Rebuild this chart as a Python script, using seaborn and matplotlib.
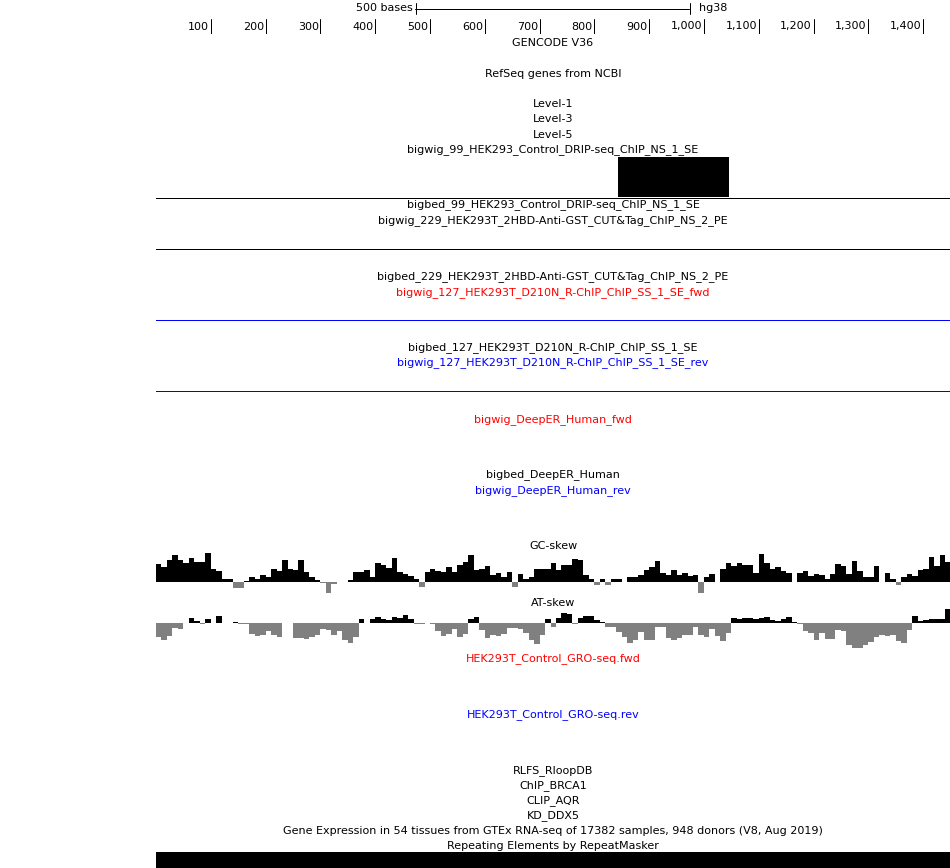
import numpy as np
import matplotlib
matplotlib.use("Agg")
import matplotlib.pyplot as plt
import seaborn as sns

# ── DATA ────────────────────────────────────────────────────────────
view_start, view_end = 0, 1449          # bases shown in the window
ruler_ticks = [100, 200, 300, 400, 500, 600, 700, 800, 900,
               1000, 1100, 1200, 1300, 1400]
ruler_labels = ["100", "200", "300", "400", "500", "600", "700", "800", "900",
                "1,000", "1,100", "1,200", "1,300", "1,400"]

bin_size = 10
# GC / AT skew per 10-base bin (arbitrary units)
gc_skew = [53, 44, 65, 81, 65, 57, 71, 59, 59, 86, 39, 32, 8, 8, -18, -18, 2, 14,
           8, 21, 15, 39, 31, 65, 38, 36, 65, 29, 14, 5, -3, -34, -7, -2, 0, 5,
           28, 28, 35, 14, 56, 51, 41, 71, 28, 23, 16, 8, -17, 28, 38, 31, 29, 45,
           29, 51, 59, 81, 36, 38, 46, 21, 26, 14, 28, -17, 23, 9, 14, 37, 37, 37,
           57, 36, 51, 51, 69, 65, 21, 8, -9, 8, -9, 8, 8, 0, 14, 14, 21, 35,
           43, 63, 26, 21, 35, 21, 27, 18, 21, -33, 13, 24, 0, 39, 56, 46, 56, 51,
           51, 26, 83, 56, 39, 44, 31, 27, 0, 26, 33, 16, 23, 21, 8, 23, 53, 48,
           23, 63, 31, 14, 14, 48, 0, 26, 9, -9, 13, 23, 18, 36, 39, 74, 46, 81, 58]
at_skew = [-41, -50, -38, -13, -18, 0, 17, 8, -3, 12, 2, 21, 2, 2, 3, -3, -3, -31,
           -38, -35, -23, -35, -41, 2, 0, -43, -43, -48, -41, -35, -16, -21, -35, -23, -51, -58,
           -40, 14, 2, 12, 20, 12, 10, 20, 16, 25, 12, -3, -3, 1, -3, -23, -38, -31,
           -18, -41, -33, 14, 20, -21, -43, -35, -38, -31, -15, -15, -18, -28, -51, -63, -35, 12,
           -10, 16, 31, 28, -2, 16, 23, 23, 10, 3, -12, -12, -27, -42, -60, -50, -27, -50,
           -50, -12, -10, -44, -50, -44, -34, -34, -12, -34, -42, -17, -37, -52, -30, 16, 13, 16,
           16, 14, 16, 18, 10, 8, 14, 18, 4, -2, -24, -29, -49, -29, -46, -46, -19, -24,
           -64, -74, -74, -64, -56, -42, -36, -39, -36, -54, -59, -19, 21, 6, 11, 14, 14, 14, 43]

drip_start, drip_end, drip_value = [843], [1045], [1.0]
repeat_start, repeat_end = [0], [1449]

track_labels = [
    "GENCODE V36", "RefSeq genes from NCBI", "Level-1", "Level-3", "Level-5",
    "bigwig_99_HEK293_Control_DRIP-seq_ChIP_NS_1_SE",
    "bigbed_99_HEK293_Control_DRIP-seq_ChIP_NS_1_SE",
    "bigwig_229_HEK293T_2HBD-Anti-GST_CUT&Tag_ChIP_NS_2_PE",
    "bigbed_229_HEK293T_2HBD-Anti-GST_CUT&Tag_ChIP_NS_2_PE",
    "bigwig_127_HEK293T_D210N_R-ChIP_ChIP_SS_1_SE_fwd",
    "bigbed_127_HEK293T_D210N_R-ChIP_ChIP_SS_1_SE",
    "bigwig_127_HEK293T_D210N_R-ChIP_ChIP_SS_1_SE_rev",
    "bigwig_DeepER_Human_fwd", "bigbed_DeepER_Human", "bigwig_DeepER_Human_rev",
    "GC-skew", "AT-skew",
    "HEK293T_Control_GRO-seq.fwd", "HEK293T_Control_GRO-seq.rev",
    "RLFS_RloopDB", "ChIP_BRCA1", "CLIP_AQR", "KD_DDX5",
    "Gene Expression in 54 tissues from GTEx RNA-seq of 17382 samples, 948 donors (V8, Aug 2019)",
    "Repeating Elements by RepeatMasker",
]

# ── LAYOUT (pixel rows of the browser image) ────────────────────────
W, H = 950, 868
label_y = [43, 74, 104, 119, 135, 150, 205, 221, 277, 293, 348, 363,
           420, 475, 491, 546, 603, 659, 715, 771, 786, 801, 816, 831, 846]
label_col = ["black"] * 9 + ["red", "black", "blue", "red", "black", "blue",
                             "black", "black", "red", "blue"] + ["black"] * 6
X0, X1 = 156, 950
FS = 8
LW = 0.72   # one pixel at 100 dpi

sns.set_theme(style="white")
plt.rcParams["font.family"] = ["DejaVu Sans"]
plt.rcParams["text.color"] = "black"

fig = plt.figure(figsize=(W / 100, H / 100), dpi=100)
fig.patch.set_facecolor("white")


def track_ax(top, bottom):
    a = fig.add_axes([X0 / W, 1 - bottom / H, (X1 - X0) / W, (bottom - top) / H])
    a.set_xlim(view_start, view_end)
    a.set_axis_off()
    a.patch.set_alpha(0)
    return a


# overlay axes in pixel coordinates for labels, ruler and separators
ax = fig.add_axes([0, 0, 1, 1])
ax.set_xlim(0, W)
ax.set_ylim(H, 0)
ax.set_axis_off()
ax.patch.set_alpha(0)

cx = (X0 + X1) / 2
for txt, y, c in zip(track_labels, label_y, label_col):
    ax.text(cx, y, txt, ha="center", va="center", fontsize=FS, color=c)

# scale bar
ax.text(413, 8, "500 bases", ha="right", va="center", fontsize=FS, color="black")
ax.plot([415, 689], [8.5, 8.5], color="black", lw=LW)
ax.plot([415.5, 415.5], [3, 14], color="black", lw=LW)
ax.plot([689.5, 689.5], [3, 14], color="black", lw=LW)
ax.text(699, 8, "hg38", ha="left", va="center", fontsize=FS, color="black")

# base ruler
rax = track_ax(19, 34)
rax.set_ylim(0, 1)
for pos, lab in zip(ruler_ticks, ruler_labels):
    rax.plot([pos, pos], [0, 1], color="black", lw=LW)
    rax.text(pos - 3, 0.5, lab, ha="right", va="center", fontsize=FS, color="black")

# separators (track baselines), crisp one-pixel rows
for y, c in [(197, "black"), (248, "black"), (319, "blue"), (390, "blue")]:
    ax.plot([X0, X1], [y + 0.5, y + 0.5], color=c, lw=LW, antialiased=False)

# DRIP-seq signal
dax = track_ax(157, 196.5)
dax.set_ylim(0, 1)
dax.bar(drip_start, drip_value, width=np.subtract(drip_end, drip_start),
        align="edge", color="black", linewidth=0)

# skew tracks
starts = np.arange(len(gc_skew)) * bin_size
gc = np.array(gc_skew)
gax = track_ax(548, 596)
gax.set_ylim(-43, 101)
gax.bar(starts, gc, width=bin_size, align="edge", linewidth=0,
        color=np.where(gc >= 0, "black", "#808080"))

at = np.array(at_skew)
aax = track_ax(605, 655)
aax.set_ylim(-95, 55)
aax.bar(starts, at, width=bin_size, align="edge", linewidth=0,
        color=np.where(at >= 0, "black", "#808080"))

# RepeatMasker dense bar
mx = track_ax(852, 868)
mx.set_ylim(0, 1)
mx.bar(repeat_start, [1], width=np.subtract(repeat_end, repeat_start),
       align="edge", color="black", linewidth=0)

fig.savefig("out.png", dpi=100, facecolor="white")
